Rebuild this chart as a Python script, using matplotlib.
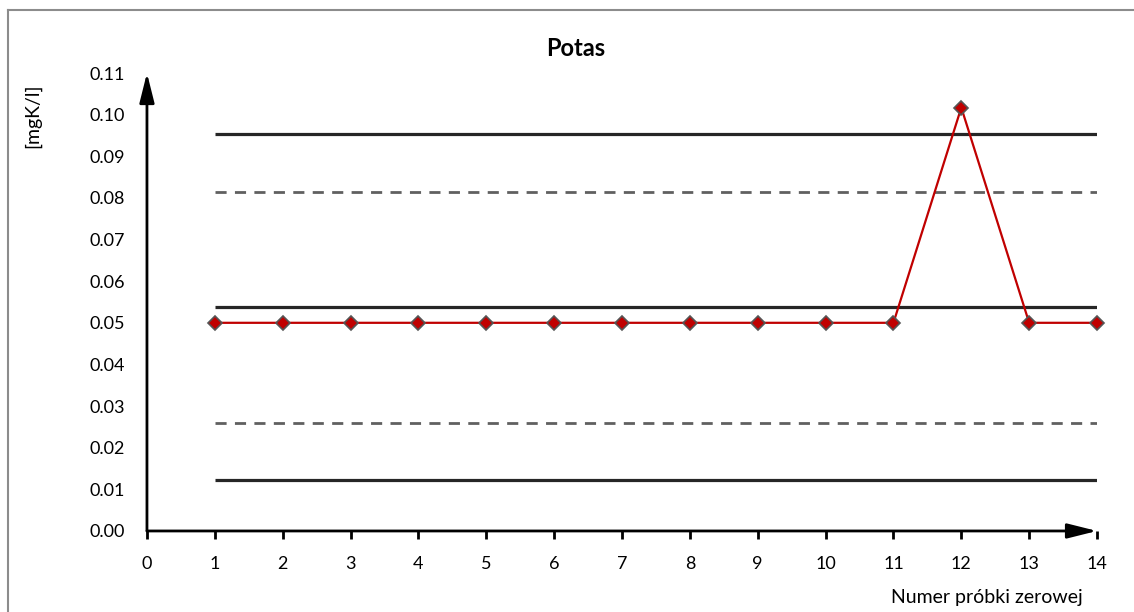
import matplotlib.pyplot as plt
from matplotlib.lines import Line2D
import numpy as np

plt.rcParams['font.family'] = ['Lato', 'DejaVu Sans']

# sample numbers and measured values
samples = np.arange(1, 15)
values = [0.050, 0.050, 0.050, 0.050, 0.050, 0.050, 0.050,
          0.050, 0.050, 0.050, 0.050, 0.1017, 0.050, 0.050]

# control chart limits
center = 0.0538
warn_lo, warn_hi = 0.0260, 0.0815
ctrl_lo, ctrl_hi = 0.0123, 0.0954

xticks = np.arange(0, 15)
yticks = np.arange(0, 0.111, 0.01)

fig = plt.figure(figsize=(11.34, 6.12), dpi=100)
ax = fig.add_axes([0.1296, 0.1324, 0.8378, 0.7483])

xs = [samples[0], samples[-1]]
for lvl in (ctrl_hi, center, ctrl_lo):
    ax.plot(xs, [lvl, lvl], color='#262626', lw=2.3, solid_capstyle='butt')
for lvl in (warn_hi, warn_lo):
    ax.plot(xs, [lvl, lvl], color='#606060', lw=2.0, ls=(0, (4, 3)))

ax.plot(samples, values, color='#C00000', lw=1.6, marker='D', ms=7,
        mfc='#C00000', mec='#555555', mew=1.2, zorder=5, clip_on=False)

ax.set_xlim(0, 14)
ax.set_ylim(0, 0.11)
ax.set_xticks(xticks)
ax.set_yticks(yticks)
ax.set_yticklabels(['%.2f' % v for v in yticks])
for s in ax.spines.values():
    s.set_visible(False)
ax.tick_params(axis='y', length=0, pad=16, labelsize=13)
ax.tick_params(axis='x', length=6, width=2, direction='out', pad=12, labelsize=13)

# axes with slim arrow heads
arrow = dict(arrowstyle='-|>,head_length=1.8,head_width=0.45', color='black',
             lw=2, mutation_scale=10, shrinkA=0, shrinkB=0)
ax.annotate('', xy=(1, 0), xytext=(0, 0), xycoords='axes fraction', arrowprops=arrow)
ax.annotate('', xy=(0, 1), xytext=(0, 0), xycoords='axes fraction', arrowprops=arrow)

fig.text(576 / 1134, 1 - 48 / 612, 'Potas', fontsize=17, fontweight='bold',
         ha='center', va='center')
fig.text(33 / 1134, 1 - 116 / 612, '[mgK/l]', rotation=90, fontsize=14,
         ha='center', va='center')
fig.text(1083 / 1134, 1 - 597 / 612, 'Numer próbki zerowej', fontsize=14,
         ha='right', va='center')

# chart area frame
fig.add_artist(Line2D([8 / 1134, 8 / 1134], [0, 1 - 10 / 612], color='#8c8c8c', lw=1.5))
fig.add_artist(Line2D([8 / 1134, 1], [1 - 10 / 612, 1 - 10 / 612], color='#8c8c8c', lw=1.5))

plt.savefig('out.png', dpi=100)
